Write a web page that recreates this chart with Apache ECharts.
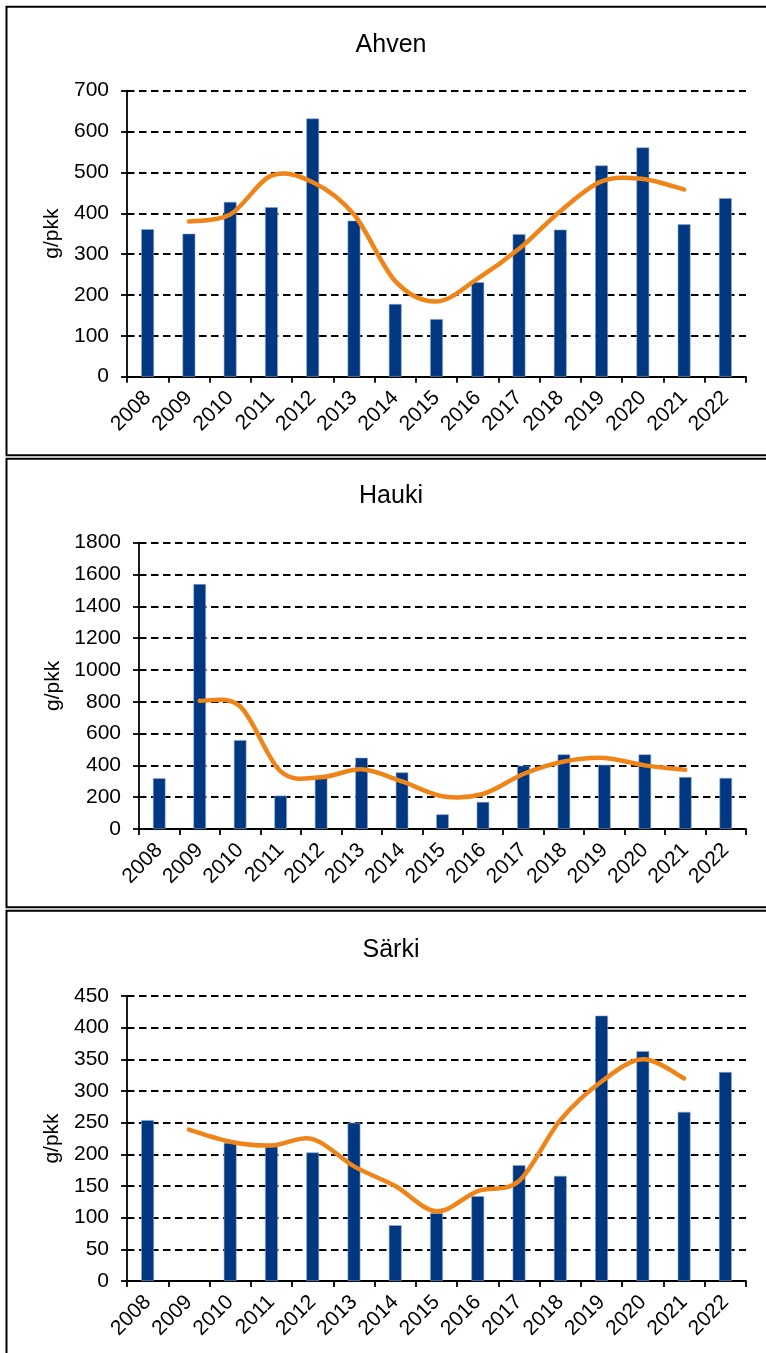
<!DOCTYPE html>
<html>
<head>
<meta charset="utf-8">
<script src="https://cdn.jsdelivr.net/npm/echarts@6/dist/echarts.min.js"></script>
<style>
  html, body { margin: 0; padding: 0; background: #ffffff; }
  #chart { width: 766px; height: 1353px; }
</style>
</head>
<body>
<div id="chart"></div>
<script>
// Catch per unit effort (g/pkk) by year, three species
const years = ['2008', '2009', '2010', '2011', '2012', '2013', '2014', '2015',
               '2016', '2017', '2018', '2019', '2020', '2021', '2022'];

const ahvenCatch = [361, 350, 428, 415, 632, 382, 178, 141, 231, 349, 360, 517, 561, 373, 437];
const ahvenTrend = [null, 380, 397, 492, 476, 397, 234, 184, 240, 313, 405, 478, 484, 458, null];

const haukiCatch = [319, 1540, 559, 210, 320, 448, 356, 92, 170, 398, 469, 404, 469, 327, 321];
const haukiTrend = [null, 806, 770, 362, 326, 375, 299, 206, 220, 346, 424, 447, 400, 372, null];

const sarkiCatch = [254, null, 218, 212, 203, 250, 88, 107, 134, 183, 166, 419, 363, 267, 330];
const sarkiTrend = [null, 239, 220, 214, 224, 181, 150, 110, 142, 158, 254, 315, 350, 320, null];

const speciesNames = ['Ahven', 'Hauki', 'Särki'];
const axisMax = [700, 1800, 450];
const axisStep = [100, 200, 50];
const unitLabel = 'g/pkk';

const FONT = '"Liberation Sans", Arial, sans-serif';
const BAR_COLOR = '#003781';
const LINE_COLOR = '#EF8419';

// panel geometry (pixels)
const panels = [
  { left: 127, top: 90.7, width: 619, height: 286, titleTop: 32.5, nameGap: 60, frameTop: 6.7, frameBottom: 455.2 },
  { left: 139, top: 542.7, width: 607, height: 286.3, titleTop: 484, nameGap: 73, frameTop: 458.7, frameBottom: 907.2 },
  { left: 127, top: 996, width: 619, height: 285, titleTop: 937.5, nameGap: 61, frameTop: 910.8, frameBottom: 1400 }
];

const catchData = [ahvenCatch, haukiCatch, sarkiCatch];
const trendData = [ahvenTrend, haukiTrend, sarkiTrend];

// [categoryIndex, value] pairs for the defined points of a trend
function trendPoints(values) {
  const out = [];
  values.forEach((v, i) => { if (v != null) out.push([i, v]); });
  return out;
}

// Smoothed curve through all points (cubic Bezier, Catmull-Rom style tangents)
function smoothCurveRenderer(points) {
  return function (params, api) {
    if (params.dataIndex !== 0) return null;
    const p = points.map(d => api.coord(d));
    const n = p.length;
    let d = 'M' + p[0][0] + ' ' + p[0][1];
    for (let i = 0; i < n - 1; i++) {
      const p0 = p[Math.max(i - 1, 0)];
      const p1 = p[i];
      const p2 = p[i + 1];
      const p3 = p[Math.min(i + 2, n - 1)];
      const c1x = p1[0] + (p2[0] - p0[0]) / 6;
      const c1y = p1[1] + (p2[1] - p0[1]) / 6;
      const c2x = p2[0] - (p3[0] - p1[0]) / 6;
      const c2y = p2[1] - (p3[1] - p1[1]) / 6;
      d += ' C' + c1x + ' ' + c1y + ' ' + c2x + ' ' + c2y + ' ' + p2[0] + ' ' + p2[1];
    }
    return {
      type: 'path',
      shape: { pathData: d },
      style: { fill: 'none', stroke: LINE_COLOR, lineWidth: 4.5, lineCap: 'round', lineJoin: 'round' }
    };
  };
}

const chart = echarts.init(document.getElementById('chart'), null, { renderer: 'canvas' });

const option = {
  animation: false,
  backgroundColor: '#ffffff',
  title: panels.map((p, i) => ({
    text: speciesNames[i],
    left: 391,
    top: p.titleTop,
    padding: 0,
    textAlign: 'center',
    textStyle: { fontFamily: FONT, fontSize: 25, fontWeight: 'normal', color: '#000' }
  })),
  grid: panels.map(p => ({
    left: p.left, top: p.top, width: p.width, height: p.height, containLabel: false
  })),
  xAxis: panels.map((p, i) => ({
    type: 'category',
    gridIndex: i,
    data: years,
    boundaryGap: true,
    axisLine: { show: true, lineStyle: { color: '#000', width: 1.8 } },
    axisTick: { show: true, inside: false, length: 6, alignWithLabel: false,
                lineStyle: { color: '#000', width: 1.8 } },
    axisLabel: { rotate: 45, margin: 18, interval: 0, color: '#000',
                 fontFamily: FONT, fontSize: 21 },
    splitLine: { show: false }
  })),
  yAxis: panels.map((p, i) => ({
    type: 'value',
    gridIndex: i,
    min: 0,
    max: axisMax[i],
    interval: axisStep[i],
    name: unitLabel,
    nameLocation: 'middle',
    nameRotate: 90,
    nameGap: p.nameGap,
    nameTextStyle: { fontFamily: FONT, fontSize: 21, color: '#000' },
    axisLine: { show: true, lineStyle: { color: '#000', width: 1.8 } },
    axisTick: { show: true, inside: false, length: 6, lineStyle: { color: '#000', width: 1.8 } },
    axisLabel: { margin: 18, color: '#000', fontFamily: FONT, fontSize: 21,
                 formatter: v => String(v) },
    splitLine: { show: true, lineStyle: { color: '#000', width: 2, type: [7.5, 4.5] } }
  })),
  series: [].concat(...panels.map((p, i) => {
    const pts = trendPoints(trendData[i]);
    return [
      {
        type: 'bar',
        xAxisIndex: i,
        yAxisIndex: i,
        data: catchData[i],
        barWidth: '31%',
        itemStyle: { color: BAR_COLOR, borderColor: '#8fa6cc', borderWidth: 0.6 },
        z: 2
      },
      {
        type: 'custom',
        coordinateSystem: 'cartesian2d',
        xAxisIndex: i,
        yAxisIndex: i,
        data: pts,
        encode: { x: 0, y: 1 },
        renderItem: smoothCurveRenderer(pts),
        clip: false,
        silent: true,
        z: 3
      }
    ];
  })),
  graphic: panels.map(p => ({
    type: 'rect',
    silent: true,
    shape: { x: 6.5, y: p.frameTop, width: 800, height: p.frameBottom - p.frameTop },
    style: { fill: 'none', stroke: '#000', lineWidth: 2 },
    z: 10
  }))
};

chart.setOption(option);
</script>
</body>
</html>
